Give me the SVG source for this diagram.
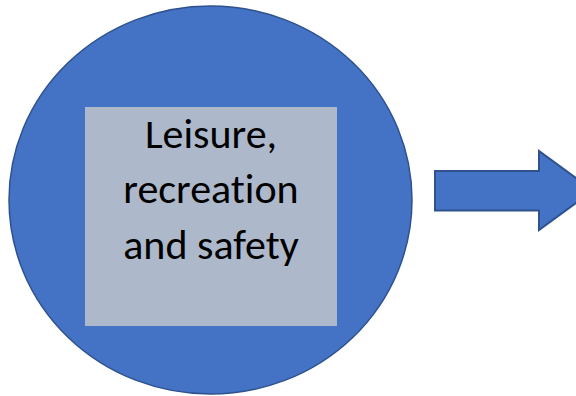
<svg xmlns="http://www.w3.org/2000/svg" width="576" height="396" viewBox="0 0 576 396">
<style>
.shape{fill:#4472C4;stroke:#2F528F;}
.label{font-family:Calibri,Carlito,"Liberation Sans",sans-serif;font-size:42px;fill:#000;text-anchor:middle;font-variant-ligatures:none;font-feature-settings:"liga" 0;}
</style>
<rect width="576" height="396" fill="#fff"/>
<g id="circle-node">
<ellipse class="shape" cx="210.5" cy="200" rx="201.5" ry="194" stroke-width="1.5"/>
<rect x="85" y="107" width="252" height="219" fill="#ADB9CA"/>
<text class="label" x="211" y="148">Leisure,</text>
<text class="label" x="211" y="203">recreation</text>
<text class="label" x="211" y="259">and safety</text>
</g>
<g id="connectors">
<polygon class="shape" stroke-width="2" stroke-linejoin="miter" points="435,171 539,171 539,151 593,190.5 539,230 539,210.5 435,210.5"/>
</g>
</svg>
